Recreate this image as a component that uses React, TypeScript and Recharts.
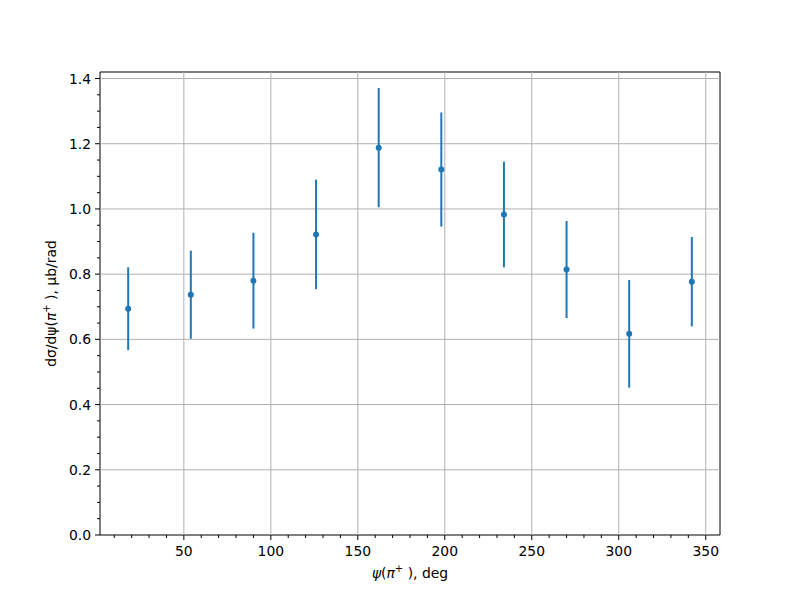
import {
  ComposedChart,
  Scatter,
  ErrorBar,
  XAxis,
  YAxis,
  ReferenceLine,
  ReferenceArea,
} from 'recharts'

const angles = [18, 54, 90, 126, 162, 198, 234, 270, 306, 342]
const xsec = [0.694, 0.737, 0.78, 0.922, 1.188, 1.121, 0.983, 0.814, 0.617, 0.777]
const xsecErr = [0.127, 0.135, 0.147, 0.168, 0.183, 0.175, 0.162, 0.149, 0.165, 0.137]

const xMajor = [50, 100, 150, 200, 250, 300, 350]
const yMajor = [0, 0.2, 0.4, 0.6, 0.8, 1.0, 1.2, 1.4]

const xDomain = [1.8, 358.2]
const yDomain = [0, 1.42]

const xAll: number[] = []
for (let v = 10; v <= 350; v += 10) xAll.push(v)
const yAll: number[] = []
for (let i = 0; i <= 28; i++) yAll.push(Math.round(i * 5) / 100)

const BLUE = '#1f77b4'
const FONT = 'DejaVu Sans'
const FS = 13.9

const data = angles.map((x, i) => ({ x, y: xsec[i], err: xsecErr[i] }))

const isMajorX = (v: number) => xMajor.includes(v)
const isMajorY = (v: number) => yMajor.some((m) => Math.abs(m - v) < 1e-6)

function XTick(props: any) {
  const { x, y, payload } = props
  const major = isMajorX(payload.value)
  return (
    <g>
      <line x1={x} x2={x} y1={y} y2={y + (major ? 5 : 3)} stroke="#000" strokeWidth={1} />
      {major && (
        <text x={x} y={y + 21} textAnchor="middle" fontSize={FS} fontFamily={FONT} fill="#000">
          {payload.value}
        </text>
      )}
    </g>
  )
}

function YTick(props: any) {
  const { x, y, payload } = props
  const major = isMajorY(payload.value)
  return (
    <g>
      <line x1={x} x2={x - (major ? 5 : 3)} y1={y} y2={y} stroke="#000" strokeWidth={1} />
      {major && (
        <text x={x - 9} y={y + 5} textAnchor="end" fontSize={FS} fontFamily={FONT} fill="#000">
          {payload.value.toFixed(1)}
        </text>
      )}
    </g>
  )
}

function XLabel(props: any) {
  const { viewBox } = props
  const cx = viewBox.x + viewBox.width / 2
  return (
    <text x={cx} y={viewBox.y + 43} textAnchor="middle" fontSize={FS} fontFamily={FONT} fill="#000">
      <tspan fontStyle="italic">ψ</tspan>
      <tspan>(</tspan>
      <tspan fontStyle="italic">π</tspan>
      <tspan fontSize={10} dy={-6}>+</tspan>
      <tspan dy={6}> ), deg</tspan>
    </text>
  )
}

function YLabel(props: any) {
  const { viewBox } = props
  const cy = viewBox.y + viewBox.height / 2
  const x = 56
  return (
    <text
      x={x}
      y={cy}
      transform={`rotate(-90 ${x} ${cy})`}
      textAnchor="middle"
      fontSize={FS}
      fontFamily={FONT}
      fill="#000"
    >
      <tspan>dσ/dψ(</tspan>
      <tspan fontStyle="italic">π</tspan>
      <tspan fontSize={10} dy={-6}>+</tspan>
      <tspan dy={6}> ), μb/rad</tspan>
    </text>
  )
}

function Dot(props: any) {
  const { cx, cy } = props
  return <circle cx={cx} cy={cy} r={3} fill={BLUE} />
}

export default function App() {
  return (
    <div style={{ position: 'absolute', left: 0, top: 0, width: 800, height: 600, background: '#fff' }}>
      <ComposedChart
        width={800}
        height={600}
        data={data}
        margin={{ top: 72, right: 80, bottom: 35, left: 40 }}
      >
        <XAxis
          dataKey="x"
          type="number"
          domain={xDomain}
          ticks={xAll}
          interval={0}
          allowDataOverflow
          tickLine={false}
          tickSize={0}
          tickMargin={0}
          axisLine={false}
          tick={<XTick />}
          height={30}
          label={<XLabel />}
        />
        <YAxis
          type="number"
          domain={yDomain}
          ticks={yAll}
          interval={0}
          allowDataOverflow
          tickLine={false}
          tickSize={0}
          tickMargin={0}
          axisLine={false}
          tick={<YTick />}
          width={60}
          label={<YLabel />}
        />
        {xMajor.map((v) => (
          <ReferenceLine key={'gx' + v} x={v} stroke="#b0b0b0" strokeWidth={1} />
        ))}
        {yMajor.slice(1).map((v) => (
          <ReferenceLine key={'gy' + v} y={v} stroke="#b0b0b0" strokeWidth={1} />
        ))}
        <ReferenceArea
          x1={xDomain[0]}
          x2={xDomain[1]}
          y1={yDomain[0]}
          y2={yDomain[1]}
          fill="none"
          fillOpacity={0}
          stroke="#000"
          strokeWidth={1}
        />
        <Scatter dataKey="y" fill={BLUE} shape={<Dot />} isAnimationActive={false}>
          <ErrorBar dataKey="err" direction="y" width={0} stroke={BLUE} strokeWidth={2} isAnimationActive={false} />
        </Scatter>
      </ComposedChart>
    </div>
  )
}
